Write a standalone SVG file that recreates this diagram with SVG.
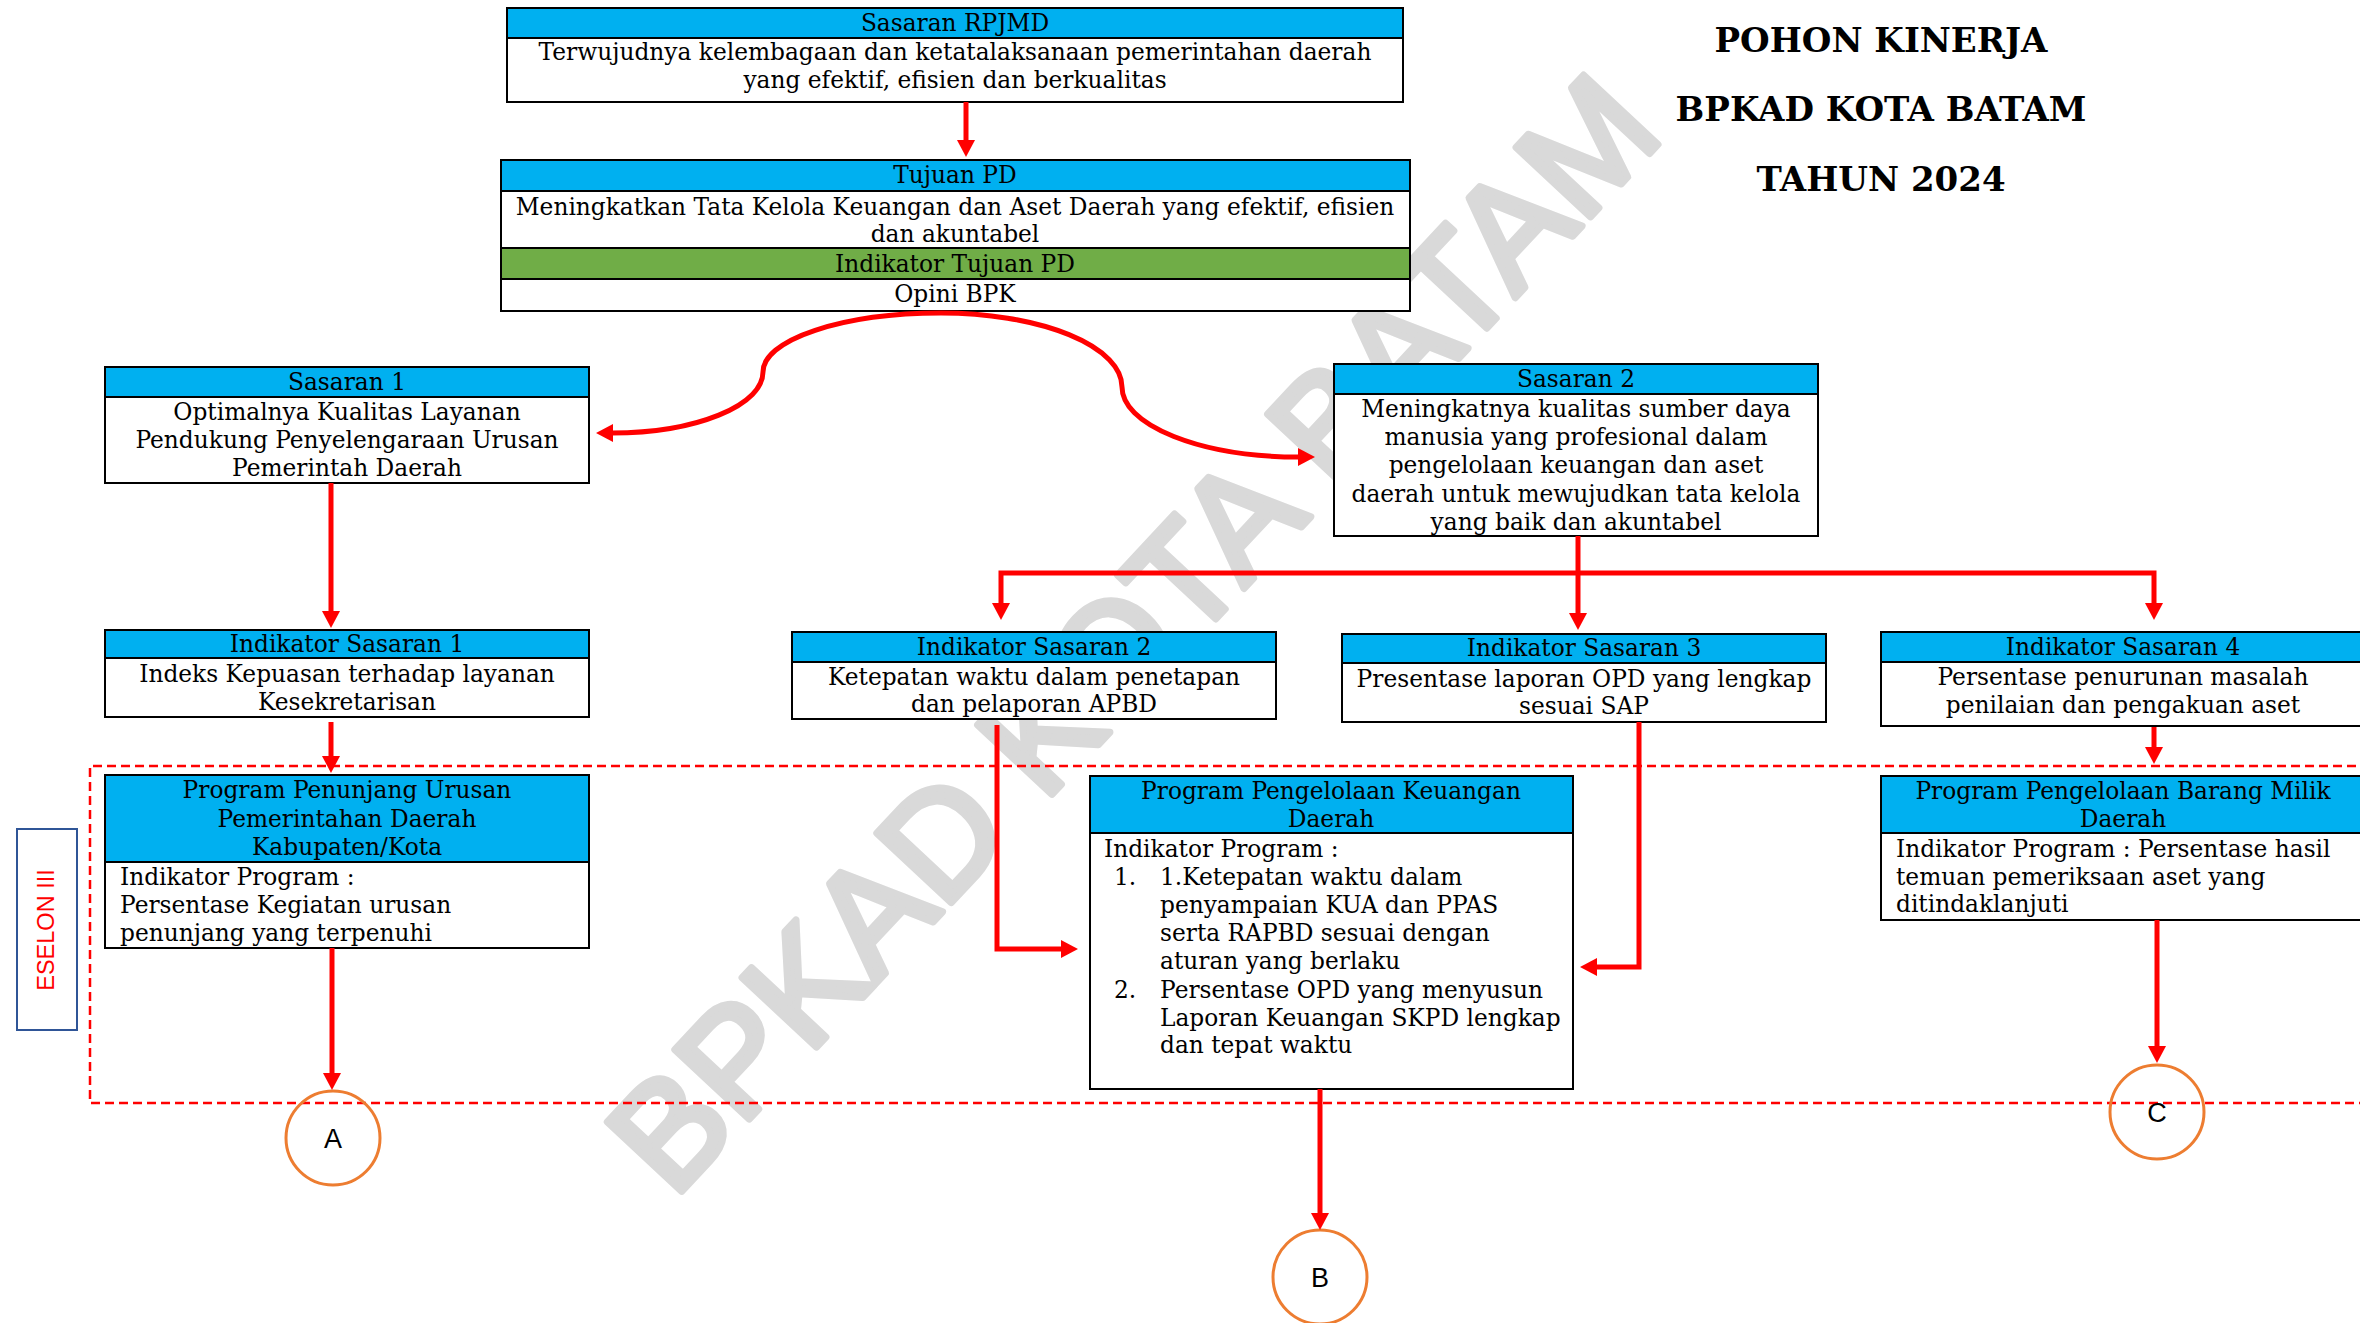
<svg xmlns="http://www.w3.org/2000/svg" width="2360" height="1323" viewBox="0 0 2360 1323">
<style>
.bx{fill:#fff;stroke:#000;stroke-width:2}
.hd{fill:#00B0F0;stroke:#000;stroke-width:2}
.gr{fill:#70AD47;stroke:#000;stroke-width:2}
.t{font-family:"DejaVu Serif","Liberation Serif",serif;font-size:23.3px;fill:#000}
.m{text-anchor:middle}
.con{fill:none;stroke:#FF0000;stroke-width:5}
.cir{fill:none;stroke:#ED7D31;stroke-width:3}
.lt{font-family:"Liberation Sans",Arial,sans-serif;font-size:27px;fill:#000;text-anchor:middle}
.ttl{font-family:"DejaVu Serif","Liberation Serif",serif;font-size:34px;font-weight:bold;fill:#000;text-anchor:middle}
</style>
<defs>
<marker id="ah" markerUnits="userSpaceOnUse" markerWidth="18" markerHeight="18" viewBox="0 0 18 18" refX="1" refY="9" orient="auto">
<path d="M0,0 L17,9 L0,18 z" fill="#FF0000"/>
</marker>
</defs>
<rect width="2360" height="1323" fill="#fff"/>

<g id="watermark">
<text x="1170" y="668" transform="rotate(-47 1170 668)" font-family="Liberation Sans, Arial, sans-serif" font-size="148" fill="#D9D9D9" stroke="#D9D9D9" stroke-width="7" stroke-linejoin="round" text-anchor="middle">BPKAD KOTA BATAM</text>
</g>

<g id="title">
<text class="ttl" x="1881" y="52">POHON KINERJA</text>
<text class="ttl" x="1881" y="121">BPKAD KOTA BATAM</text>
<text class="ttl" x="1881" y="191">TAHUN 2024</text>
</g>

<g id="eselon-band">
<path d="M2370 766 H90 V1103 H2370" fill="none" stroke="#FF0000" stroke-width="2.5" stroke-dasharray="9 5"/>
</g>

<g id="n-eselon">
<rect x="17" y="829" width="60" height="201" fill="#fff" stroke="#2F5597" stroke-width="2"/>
<text x="46" y="938" transform="rotate(-90 46 930)" font-family="Liberation Sans, Arial, sans-serif" font-size="23.5" fill="#FF0000" text-anchor="middle">ESELON III</text>
</g>

<g id="n-rpjmd">
<rect class="bx" x="507" y="8" width="896" height="94"/>
<rect class="hd" x="507" y="8" width="896" height="30"/>
<text class="t m" x="955" y="31">Sasaran RPJMD</text>
<text class="t m" x="955" y="60">Terwujudnya kelembagaan dan ketatalaksanaan pemerintahan daerah</text>
<text class="t m" x="955" y="88">yang efektif, efisien dan berkualitas</text>
</g>

<g id="n-tujuan">
<rect class="bx" x="501" y="160" width="909" height="151"/>
<rect class="hd" x="501" y="160" width="909" height="31"/>
<rect class="gr" x="501" y="248" width="909" height="31"/>
<text class="t m" x="955" y="183">Tujuan PD</text>
<text class="t m" x="955" y="215">Meningkatkan Tata Kelola Keuangan dan Aset Daerah yang efektif, efisien</text>
<text class="t m" x="955" y="242">dan akuntabel</text>
<text class="t m" x="955" y="272">Indikator Tujuan PD</text>
<text class="t m" x="955" y="302">Opini BPK</text>
</g>

<g id="n-s1">
<rect class="bx" x="105" y="367" width="484" height="116"/>
<rect class="hd" x="105" y="367" width="484" height="30"/>
<text class="t m" x="347" y="390">Sasaran 1</text>
<text class="t m" x="347" y="420">Optimalnya Kualitas Layanan</text>
<text class="t m" x="347" y="448">Pendukung Penyelengaraan Urusan</text>
<text class="t m" x="347" y="476">Pemerintah Daerah</text>
</g>

<g id="n-s2">
<rect class="bx" x="1334" y="364" width="484" height="172"/>
<rect class="hd" x="1334" y="364" width="484" height="30"/>
<text class="t m" x="1576" y="387">Sasaran 2</text>
<text class="t m" x="1576" y="417">Meningkatnya kualitas sumber daya</text>
<text class="t m" x="1576" y="445">manusia yang profesional dalam</text>
<text class="t m" x="1576" y="473">pengelolaan keuangan dan aset</text>
<text class="t m" x="1576" y="502">daerah untuk mewujudkan tata kelola</text>
<text class="t m" x="1576" y="530">yang baik dan akuntabel</text>
</g>

<g id="n-is1">
<rect class="bx" x="105" y="630" width="484" height="87"/>
<rect class="hd" x="105" y="630" width="484" height="28"/>
<text class="t m" x="347" y="652">Indikator Sasaran 1</text>
<text class="t m" x="347" y="682">Indeks Kepuasan terhadap layanan</text>
<text class="t m" x="347" y="710">Kesekretarisan</text>
</g>

<g id="n-is2">
<rect class="bx" x="792" y="632" width="484" height="87"/>
<rect class="hd" x="792" y="632" width="484" height="30"/>
<text class="t m" x="1034" y="655">Indikator Sasaran 2</text>
<text class="t m" x="1034" y="685">Ketepatan waktu dalam penetapan</text>
<text class="t m" x="1034" y="712">dan pelaporan APBD</text>
</g>

<g id="n-is3">
<rect class="bx" x="1342" y="634" width="484" height="88"/>
<rect class="hd" x="1342" y="634" width="484" height="29"/>
<text class="t m" x="1584" y="656">Indikator Sasaran 3</text>
<text class="t m" x="1584" y="687">Presentase laporan OPD yang lengkap</text>
<text class="t m" x="1584" y="714">sesuai SAP</text>
</g>

<g id="n-is4">
<rect class="bx" x="1881" y="632" width="484" height="94"/>
<rect class="hd" x="1881" y="632" width="484" height="30"/>
<text class="t m" x="2123" y="655">Indikator Sasaran 4</text>
<text class="t m" x="2123" y="685">Persentase penurunan masalah</text>
<text class="t m" x="2123" y="713">penilaian dan pengakuan aset</text>
</g>

<g id="n-p1">
<rect class="bx" x="105" y="775" width="484" height="173"/>
<rect class="hd" x="105" y="775" width="484" height="87"/>
<text class="t m" x="347" y="798">Program Penunjang Urusan</text>
<text class="t m" x="347" y="827">Pemerintahan Daerah</text>
<text class="t m" x="347" y="855">Kabupaten/Kota</text>
<text class="t" x="120" y="885">Indikator Program :</text>
<text class="t" x="120" y="913">Persentase Kegiatan urusan</text>
<text class="t" x="120" y="941">penunjang yang terpenuhi</text>
</g>

<g id="n-p2">
<rect class="bx" x="1090" y="776" width="483" height="313"/>
<rect class="hd" x="1090" y="776" width="483" height="57"/>
<text class="t m" x="1331" y="799">Program Pengelolaan Keuangan</text>
<text class="t m" x="1331" y="827">Daerah</text>
<text class="t" x="1104" y="857">Indikator Program :</text>
<text class="t" x="1114" y="885">1.</text>
<text class="t" x="1160" y="885">1.Ketepatan waktu dalam</text>
<text class="t" x="1160" y="913">penyampaian KUA dan PPAS</text>
<text class="t" x="1160" y="941">serta RAPBD sesuai dengan</text>
<text class="t" x="1160" y="969">aturan yang berlaku</text>
<text class="t" x="1114" y="998">2.</text>
<text class="t" x="1160" y="998">Persentase OPD yang menyusun</text>
<text class="t" x="1160" y="1026">Laporan Keuangan SKPD lengkap</text>
<text class="t" x="1160" y="1053">dan tepat waktu</text>
</g>

<g id="n-p3">
<rect class="bx" x="1881" y="776" width="484" height="144"/>
<rect class="hd" x="1881" y="776" width="484" height="57"/>
<text class="t m" x="2123" y="799">Program Pengelolaan Barang Milik</text>
<text class="t m" x="2123" y="827">Daerah</text>
<text class="t" x="1896" y="857">Indikator Program : Persentase hasil</text>
<text class="t" x="1896" y="885">temuan pemeriksaan aset yang</text>
<text class="t" x="1896" y="912">ditindaklanjuti</text>
</g>

<g id="n-a">
<circle class="cir" cx="333" cy="1138" r="47"/>
<text class="lt" x="333" y="1148">A</text>
</g>
<g id="n-b">
<circle class="cir" cx="1320" cy="1277" r="47"/>
<text class="lt" x="1320" y="1287">B</text>
</g>
<g id="n-c">
<circle class="cir" cx="2157" cy="1112" r="47"/>
<text class="lt" x="2157" y="1122">C</text>
</g>

<g id="connectors">
<path class="con" d="M966 102 V141" marker-end="url(#ah)"/>
<path class="con" d="M941 313 A178 59 0 0 0 763 372 A151 61 0 0 1 612 433" marker-end="url(#ah)"/>
<path class="con" d="M941 313 A181 74 0 0 1 1122 387 A177 70 0 0 0 1299 457" marker-end="url(#ah)"/>
<path class="con" d="M331 483 V612" marker-end="url(#ah)"/>
<path class="con" d="M331 722 V757" marker-end="url(#ah)"/>
<path class="con" d="M332 948 V1074" marker-end="url(#ah)"/>
<path class="con" d="M1578 536 V614" marker-end="url(#ah)"/>
<path class="con" d="M1578 573 H1001 V604" marker-end="url(#ah)"/>
<path class="con" d="M1578 573 H2154 V604" marker-end="url(#ah)"/>
<path class="con" d="M997 725 V949 H1062" marker-end="url(#ah)"/>
<path class="con" d="M1639 722 V967 H1596" marker-end="url(#ah)"/>
<path class="con" d="M2154 727 V748" marker-end="url(#ah)"/>
<path class="con" d="M1320 1089 V1214" marker-end="url(#ah)"/>
<path class="con" d="M2157 920 V1047" marker-end="url(#ah)"/>
</g>
</svg>
